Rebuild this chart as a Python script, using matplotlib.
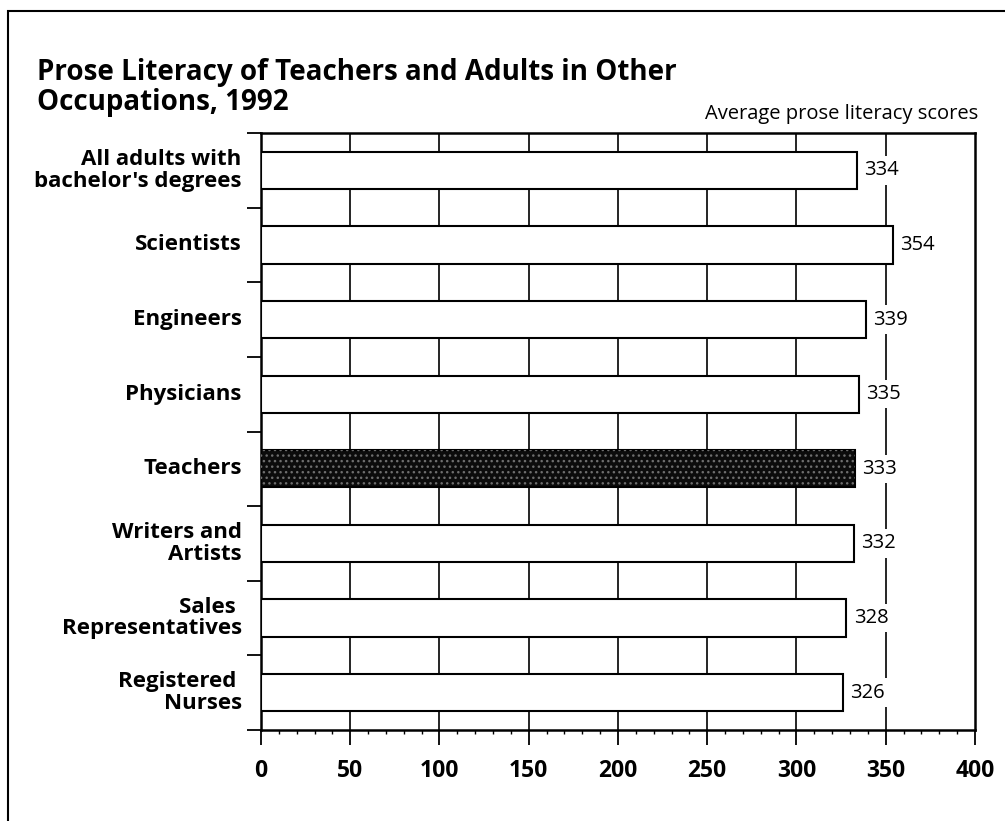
import numpy as np
import matplotlib
matplotlib.use("Agg")
import matplotlib.pyplot as plt
from matplotlib.patches import Rectangle

plt.rcParams['font.family'] = ['Open Sans', 'DejaVu Sans']

categories = ["All adults with\nbachelor's degrees", "Scientists", "Engineers", "Physicians",
              "Teachers", "Writers and\nArtists", "Sales \nRepresentatives", "Registered \nNurses"]
scores = [334, 354, 339, 335, 333, 332, 328, 326]
highlight = "Teachers"
xticks = [0, 50, 100, 150, 200, 250, 300, 350, 400]

fig = plt.figure(figsize=(10.05, 8.21), dpi=100)
ax = fig.add_axes([0.2597, 0.1108, 0.9701 - 0.2597, 0.838 - 0.1108])

# outer frame: only top and left edges show in the scan
fig.patches.append(Rectangle((0.008, -0.05), 1.2, 1.037, transform=fig.transFigure,
                             fill=False, edgecolor='black', linewidth=1.5))

ypos = np.arange(len(categories))

# grid lines behind the bars
for x in xticks[1:-1]:
    ax.axvline(x, color='black', linewidth=1.2, zorder=1)

for y, cat, val in zip(ypos, categories, scores):
    if cat == highlight:
        ax.barh(y, val, height=0.5, color='#0c0c0c', edgecolor='black', linewidth=1.5, zorder=3)
        ax.barh(y, val, height=0.5, color='none', edgecolor='#6e6e6e', linewidth=0,
                hatch='...', zorder=4)
    else:
        ax.barh(y, val, height=0.5, color='white', edgecolor='black', linewidth=1.5, zorder=3)
    ax.text(val + 4, y, str(val), va='center', ha='left', fontsize=14.5, zorder=5,
            bbox=dict(facecolor='white', edgecolor='none', pad=3))

ax.set_xlim(0, 400)
ax.set_ylim(len(categories) - 0.5, -0.5)

ax.set_xticks(xticks)
ax.set_xticklabels([str(v) for v in xticks], fontsize=16.5, fontweight='bold')
ax.set_xticks(np.arange(0, 401, 10), minor=True)
ax.tick_params(axis='x', which='major', direction='out', length=11, width=1.3, pad=10)
ax.tick_params(axis='x', which='minor', direction='out', length=3, width=1)

ax.set_yticks(np.arange(-0.5, len(categories), 1.0))
ax.set_yticklabels([])
ax.tick_params(axis='y', which='major', direction='out', length=10, width=1.3)
for y, cat in zip(ypos, categories):
    ax.text(-0.027, y, cat, transform=ax.get_yaxis_transform(), ha='right', va='center',
            fontsize=16, fontweight='bold', linespacing=1.05)

for side in ['top', 'bottom', 'left', 'right']:
    ax.spines[side].set_linewidth(1.8)

fig.text(0.037, 0.9026, "Prose Literacy of Teachers and Adults in Other",
         fontsize=20, fontweight='bold', ha='left', va='baseline')
fig.text(0.037, 0.866, "Occupations, 1992",
         fontsize=20, fontweight='bold', ha='left', va='baseline')
fig.text(0.973, 0.855, "Average prose literacy scores", fontsize=14.5, ha='right', va='baseline')

fig.savefig("out.png", dpi=100)
